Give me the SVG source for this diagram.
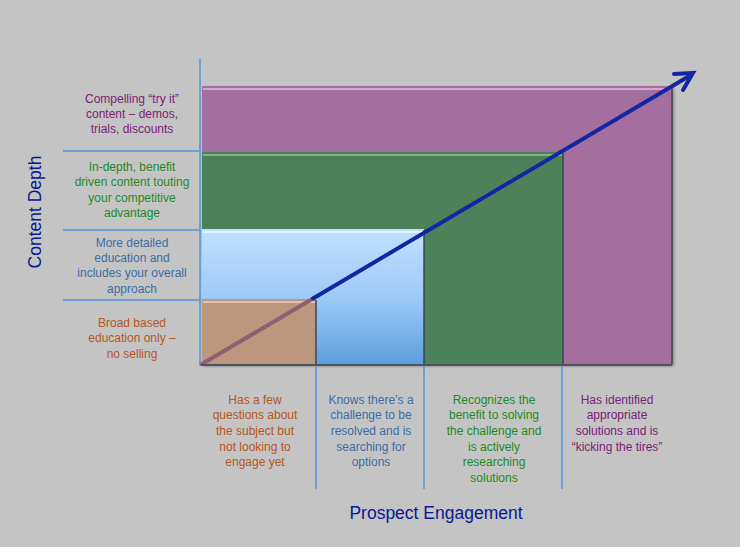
<svg xmlns="http://www.w3.org/2000/svg" width="740" height="547" viewBox="0 0 740 547">
<defs>
<linearGradient id="blueg" x1="0" y1="0" x2="0" y2="1">
<stop offset="0" stop-color="#c2e0ff"/>
<stop offset="0.5" stop-color="#9ccbf8"/>
<stop offset="1" stop-color="#5e9fdf"/>
</linearGradient>
<filter id="sh" x="-5%" y="-5%" width="110%" height="110%">
<feDropShadow dx="1.5" dy="2" stdDeviation="1.5" flood-color="#000" flood-opacity="0.45"/>
</filter>
</defs>
<style>
text{font-family:"Liberation Sans",Arial,sans-serif;font-size:12px;text-anchor:middle}
.ax{stroke:#6c9fd2;stroke-width:2;fill:none}
.edge{stroke:#3c4652;stroke-width:1.5;fill:none}
.hl{stroke-width:2;fill:none}
.pu{fill:#7b1c74}.gr{fill:#1f8a1f}.bl{fill:#3a6ea6}.br{fill:#b5561c}
.title{font-size:17.5px;fill:#0a1790}
</style>
<rect width="740" height="547" fill="#c4c4c4"/>

<g id="stage4">
<rect x="202" y="86" width="470" height="278" fill="#a46e9f" filter="url(#sh)"/>
<line class="hl" x1="203" y1="89" x2="671" y2="89" stroke="#d7a8d2"/>
<line class="edge" x1="672" y1="87" x2="672" y2="364"/>
</g>
<g id="stage3">
<rect x="202" y="152" width="361" height="212" fill="#4b8259"/>
<line class="hl" x1="203" y1="155" x2="562" y2="155" stroke="#86b08c"/>
<line class="edge" x1="563" y1="153" x2="563" y2="364"/>
</g>
<g id="stage2">
<rect x="202" y="229" width="222" height="135" fill="url(#blueg)"/>
<line class="hl" x1="203" y1="232" x2="423" y2="232" stroke="#e4f2ff"/>
<line class="edge" x1="424" y1="230" x2="424" y2="364"/>
</g>
<g id="stage1">
<rect x="202" y="299" width="114" height="65" fill="#bc967d"/>
<line class="hl" x1="203" y1="302" x2="315" y2="302" stroke="#dcc6b0"/>
<line class="edge" x1="316" y1="300" x2="316" y2="364"/>
</g>

<g id="connectors">
<line class="ax" x1="200" y1="59" x2="200" y2="366"/>
<line class="ax" x1="63" y1="151" x2="200" y2="151"/>
<line class="ax" x1="63" y1="230" x2="200" y2="230"/>
<line class="ax" x1="63" y1="300" x2="200" y2="300"/>
<line class="ax" x1="316" y1="366" x2="316" y2="489"/>
<line class="ax" x1="424" y1="366" x2="424" y2="489"/>
<line class="ax" x1="562" y1="366" x2="562" y2="489"/>
<g id="growth-arrow" fill="none" stroke-linecap="round" stroke-linejoin="miter" stroke-width="4">
<line x1="202" y1="364" x2="313" y2="298.5" stroke="#8f5f72"/>
<line x1="313" y1="298.5" x2="691" y2="75" stroke="#1226a3"/>
<polyline points="674,74 693,73 683,90" stroke="#1226a3"/>
</g>
</g>
<line class="edge" x1="201" y1="365" x2="672" y2="365" stroke-width="2"/>

<g id="label-compelling" class="pu">
<text x="132" y="103">Compelling “try it”</text>
<text x="132" y="118">content – demos,</text>
<text x="132" y="133">trials, discounts</text>
</g>
<g id="label-indepth" class="gr">
<text x="132" y="171">In-depth, benefit</text>
<text x="132" y="186">driven content touting</text>
<text x="132" y="202">your competitive</text>
<text x="132" y="217">advantage</text>
</g>
<g id="label-detailed" class="bl">
<text x="132" y="247">More detailed</text>
<text x="132" y="262">education and</text>
<text x="132" y="277">includes your overall</text>
<text x="132" y="293">approach</text>
</g>
<g id="label-broad" class="br">
<text x="132" y="327">Broad based</text>
<text x="132" y="342">education only –</text>
<text x="132" y="358">no selling</text>
</g>

<g id="label-few" class="br">
<text x="255" y="404">Has a few</text>
<text x="255" y="419">questions about</text>
<text x="255" y="435">the subject but</text>
<text x="255" y="451">not looking to</text>
<text x="255" y="466">engage yet</text>
</g>
<g id="label-knows" class="bl">
<text x="371" y="404">Knows there’s a</text>
<text x="371" y="419">challenge to be</text>
<text x="371" y="435">resolved and is</text>
<text x="371" y="451">searching for</text>
<text x="371" y="466">options</text>
</g>
<g id="label-recognizes" class="gr">
<text x="494" y="404">Recognizes the</text>
<text x="494" y="419">benefit to solving</text>
<text x="494" y="435">the challenge and</text>
<text x="494" y="451">is actively</text>
<text x="494" y="466">researching</text>
<text x="494" y="482">solutions</text>
</g>
<g id="label-identified" class="pu">
<text x="617" y="404">Has identified</text>
<text x="617" y="419">appropriate</text>
<text x="617" y="435">solutions and is</text>
<text x="617" y="451">“kicking the tires”</text>
</g>

<g id="axis-y-title"><text class="title" transform="translate(41,212) rotate(-90)">Content Depth</text></g>
<g id="axis-x-title"><text class="title" x="436" y="519">Prospect Engagement</text></g>
</svg>
